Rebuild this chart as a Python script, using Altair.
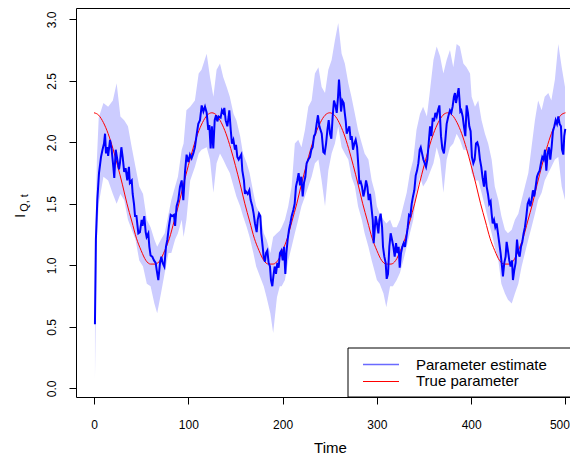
import altair as alt
import pandas as pd

# ---- data ----
T_EST = [1, 2, 3.5, 5.3, 7.4, 9, 10.6, 11.7, 12.7, 14, 15, 17, 18.7, 20.5, 21.5, 23, 24.7, 26.5, 27.5, 29,
         30.4, 32, 33.5, 35.3, 37, 38, 40, 41, 42.4, 43.5, 45, 47, 48.7, 50.5, 51.5, 53.3, 54.8, 55.8, 57.6, 58.7,
         60, 61.8, 63.6, 65.4, 66.5, 68.2, 70, 71.4, 72.8, 74.6, 76.3, 77.8, 79.5, 81.3, 83, 84.8, 86, 87.6, 89.4, 91.2,
         93, 94.7, 96.5, 98.2, 100, 101.8, 103.5, 105.3, 107, 109, 110.6,
         112.4, 114.2, 116, 117.7, 119.5, 121.2, 122.3, 123.7, 125, 126.5, 128, 129.4, 130.8, 132.2, 134.3, 135.7,
         137.1, 138.2, 139.6, 141.4, 142.8, 143.5, 145, 146.3, 147.8, 149.5, 150.6, 152, 153.4, 154.8, 156.2, 157.3,
         159, 160.1, 161.2, 163, 164.7, 166.1, 167.9, 169.3, 170.7, 172.5, 173.6, 175, 176.4, 177.4, 178.9, 179.9,
         181.3, 182.4, 183.8, 185.2, 186.6, 187.7, 189.1, 190.2, 191.6, 193, 194.4, 195.8, 197.2, 198.7, 200.1, 201.5,
         202.9, 204, 205.4, 206.8, 208.2, 209.6, 211.4, 212.8, 214.2, 215.6, 217, 218.5, 219.9, 221.3, 222.7, 224.1,
         225.5, 227.3, 229, 230.5, 231.9, 233.3, 234.7, 236.1, 237.5, 239,
         241.5, 243.2, 244.6, 246.1, 247.5, 248.9, 250.3, 251.7, 253.1, 254.5, 256, 257.4, 258.8, 259.8, 260.9, 262,
         263.4, 264.8, 265.9, 267, 268, 269.4, 270.8, 272.2, 273.3, 274.7, 276.1, 277.5, 279, 280.4, 281.4, 282.8,
         284.2, 285.7, 287.1, 288.5, 289.9, 291.3, 292.7, 294.1, 295.6, 296.6, 297.7, 298.7, 300.1, 301.6, 302.6, 304,
         305.5, 306.5, 307.9, 309.3, 310.4, 311.8, 313.2, 314.6, 316, 317.5, 318.9, 320.3, 321.7, 323.1, 324.2, 325.6,
         327, 328.4, 329.8, 331.3, 332.7, 334.1, 335.5, 336.9, 338.3, 339.7, 341.2, 342.6, 344, 345.4, 346.5, 347.9,
         349.3, 350.7, 352.1, 353.5, 354.9, 356.4, 357.8, 359.2, 360.6, 362, 363.4, 364.8, 366.3,
         368, 369.4, 371.1, 372.6, 374, 375.7, 377.5, 378.9, 380.3, 381.7, 382.8, 383.9, 385.3, 386.7, 387.4, 388.5,
         389.5, 391, 392.3, 393.8, 395.2, 396.6, 398, 399.4, 400.8, 402.3, 403.7, 405.1, 406.5, 407.9, 409.3, 410.7,
         412.1, 413.6, 415, 416.4, 417.8, 419.2, 420.6, 421.7, 422.8, 424.2, 425.6, 427, 428.4, 429.8, 431.2, 432.7,
         433.7, 435.1, 436.5, 437.6, 439, 440.4, 441.8, 443.3, 444.3, 445.7, 447.1, 448.6, 450, 451.4, 452.8, 454.2,
         455.6, 457, 458.5, 459.9, 461.3, 462.7, 464.1, 465.5, 466.9, 468.4, 469.8, 471.2, 472.6, 474, 475.4, 476.8,
         478.3, 479.7, 481.1, 482.5, 483.9, 485.3, 486.7, 488.2, 489.6, 491, 492.4, 493.8, 495.2, 496.3, 497.7, 498.7,
         499.8]
V_EST = [0.52, 1.21, 1.53, 1.75, 1.88, 1.94, 1.99, 2.07, 1.91, 1.96, 1.89, 2.02, 1.94, 1.80, 1.71, 1.94, 1.86, 1.78, 1.83, 1.96,
         1.88, 1.76, 1.79, 1.69, 1.80, 1.67, 1.69, 1.58, 1.50, 1.40, 1.40, 1.26, 1.27, 1.37, 1.32, 1.40, 1.27, 1.23, 1.26, 1.15,
         1.08, 1.07, 1.04, 1.02, 0.96, 0.88, 1.02, 1.07, 1.02, 0.99, 1.15, 1.21, 1.32, 1.41, 1.40, 1.41, 1.32, 1.48, 1.53, 1.64,
         1.69, 1.53, 1.76, 1.90, 1.84, 1.90, 1.87, 1.91, 1.96, 2.07, 2.15,
         2.18, 2.30, 2.25, 2.29, 2.24, 2.10, 2.14, 1.95, 2.13, 1.95, 2.18, 2.22, 2.17, 2.21, 2.20, 2.26,
         2.24, 2.28, 2.18, 2.13, 2.21, 2.26, 2.10, 1.99, 2.02, 1.94, 1.98, 1.88, 1.86, 1.88, 1.90, 1.77,
         1.69, 1.58, 1.60, 1.58, 1.61, 1.53, 1.48, 1.42, 1.34, 1.27, 1.37, 1.42, 1.40, 1.26, 1.15, 1.07,
         1.03, 1.10, 1.12, 1.02, 0.99, 0.88, 0.83, 0.91, 0.99, 0.93, 1.02, 0.98, 1.10, 1.12, 1.04, 1.15,
         0.93, 1.10, 1.21, 1.29, 1.34, 1.40, 1.45, 1.50, 1.64, 1.69, 1.75, 1.65, 1.72, 1.56, 1.67, 1.72,
         1.83, 1.86, 1.88, 1.94, 1.96, 2.05, 2.07, 2.15, 2.22, 2.13,
         2.07, 1.92, 1.91, 1.99, 2.10, 2.18, 2.07, 2.03, 2.21, 2.34, 2.30, 2.24, 2.37, 2.51, 2.40, 2.25,
         2.34, 2.32, 2.24, 2.17, 2.07, 2.10, 2.13, 2.02, 2.05, 1.94, 1.99, 2.02, 1.96, 1.80, 1.67, 1.68,
         1.64, 1.56, 1.61, 1.69, 1.64, 1.53, 1.58, 1.48, 1.37, 1.18, 1.29, 1.40, 1.34, 1.26, 1.37, 1.42,
         1.31, 1.15, 1.07, 1.02, 0.89, 0.93, 1.15, 1.26, 1.21, 1.15, 1.07, 1.18, 1.10, 1.15, 0.98, 1.10,
         1.15, 1.18, 1.15, 1.23, 1.31, 1.41, 1.40, 1.50, 1.56, 1.61, 1.73, 1.77, 1.83, 1.94, 1.96, 1.91,
         1.86, 1.83, 1.80, 1.86, 1.99, 2.13, 2.05, 2.20, 2.17, 2.24, 2.21, 2.26, 2.30,
         2.05, 1.95, 1.91, 2.02, 2.15, 2.21, 2.26, 2.24, 2.29, 2.37, 2.40, 2.32, 2.38, 2.44, 2.37, 2.25,
         2.26, 2.21, 2.13, 2.05, 2.30, 2.24, 2.13, 2.09, 1.88, 1.83, 1.86, 1.99, 2.00, 1.96, 1.86, 1.80,
         1.71, 1.64, 1.77, 1.64, 1.58, 1.50, 1.52, 1.42, 1.34, 1.37, 1.31, 1.34, 1.26, 1.18, 1.10, 0.99,
         0.91, 1.02, 1.07, 1.19, 1.12, 1.04, 0.99, 1.04, 0.88, 0.96, 1.02, 1.21, 1.10, 1.07, 1.15, 1.19,
         1.26, 1.31, 1.40, 1.50, 1.53, 1.48, 1.53, 1.61, 1.56, 1.64, 1.72, 1.75, 1.77, 1.83, 1.88, 1.86,
         1.94, 1.77, 1.91, 1.96, 1.86, 1.96, 2.09, 2.13, 2.18, 2.15, 2.21, 2.15, 2.13, 1.94, 1.90, 2.05,
         2.11]

T_BAND = [1, 3, 5, 10, 15, 20, 24, 28, 32, 36, 40, 44, 48, 52, 56, 60, 64, 67, 71, 75, 79, 82, 86, 89, 93, 95, 98,
          102, 107, 111, 114, 119.5, 123, 126.6, 130, 133.6, 137, 140.7, 144, 148, 151, 155, 158, 162, 165, 169, 172,
          176, 180, 183, 187, 190, 194, 197, 199, 202.5, 206, 209.6, 213, 216.6, 220, 223.7, 227.3, 230.8, 234.3, 238,
          241.4, 245, 248.5, 252, 255.5, 259, 262.6, 266, 269.7, 273, 276.7, 280, 284, 287, 291, 294.5, 298, 300, 303,
          307, 310, 314, 317, 321, 324.5, 328, 331.6, 335, 338.6, 342, 345.7, 349, 353, 356, 360, 363.4, 367, 370.5,
          374, 377.5, 381, 384.6, 388, 391.7, 395, 398.8, 400.5, 404, 407.5, 411, 414.6, 418, 421.7, 425, 428.8, 432,
          435.8, 439, 443, 446.4, 450, 453.5, 457, 460.6, 464, 467.6, 471, 474.7, 478, 481.8, 485, 488.8, 492.4, 496,
          499.5]
LO_BAND = [0.07, 1.20, 1.50, 1.72, 1.69, 1.58, 1.50, 1.58, 1.53, 1.37, 1.29, 1.21, 1.04, 0.99, 0.85, 0.83, 0.69, 0.61,
           0.77, 0.94, 1.10, 1.10, 1.21, 1.26, 1.37, 1.23, 1.37,
           1.69, 1.80, 1.91, 1.94, 1.96, 1.86, 1.59, 1.83, 1.91, 1.86, 1.80, 1.75, 1.64, 1.56, 1.48, 1.40, 1.31, 1.23,
           1.10, 0.99, 0.91, 0.83, 0.74, 0.61, 0.45, 0.74, 0.83, 0.83, 0.88, 1.04, 1.15, 1.26, 1.37, 1.48, 1.56, 1.64,
           1.72, 1.83, 1.86, 1.69, 1.48, 1.77, 1.91, 1.99, 2.13, 1.96, 1.91, 1.86, 1.72, 1.64, 1.48, 1.37, 1.26, 1.15,
           1.04, 0.94, 0.88, 0.85, 0.77, 0.66, 0.83, 0.83, 0.88, 0.94, 1.04, 1.15, 1.26, 1.37, 1.59, 1.72, 1.64, 1.69,
           1.75, 1.83, 1.96, 1.86, 1.59, 1.86, 1.96, 1.99, 2.07, 2.02, 1.94, 1.94, 1.86, 1.75, 1.69, 1.69, 1.59, 1.48,
           1.37, 1.26, 1.15, 1.04, 0.85, 0.77, 0.72, 0.69, 0.77, 0.85, 0.99, 1.10, 1.21, 1.31, 1.42, 1.53, 1.59, 1.69,
           1.75, 1.80, 1.86, 1.88, 1.64, 1.53]
HI_BAND = [0.97, 1.85, 2.20, 2.32, 2.29, 2.34, 2.48, 2.21, 2.18, 2.13, 1.96, 1.80, 1.64, 1.58, 1.37, 1.31, 1.21, 1.15,
           1.21, 1.26, 1.42, 1.53, 1.64, 1.72, 1.94, 1.99, 2.26,
           2.29, 2.34, 2.56, 2.59, 2.72, 2.53, 2.37, 2.59, 2.64, 2.53, 2.45, 2.37, 2.23, 2.18, 2.05, 1.91, 1.83, 1.75,
           1.59, 1.48, 1.42, 1.26, 1.21, 1.10, 1.23, 1.26, 1.28, 1.31, 1.37, 1.48, 1.64, 1.99, 2.02, 1.96, 2.10, 2.29,
           2.34, 2.56, 2.61, 2.45, 2.40, 2.59, 2.67, 2.83, 2.97, 2.72, 2.64, 2.48, 2.37, 2.23, 2.10, 1.99, 1.91, 1.86,
           1.69, 1.59, 1.48, 1.42, 1.37, 1.34, 1.37, 1.31, 1.31, 1.37, 1.48, 1.59, 1.75, 1.86, 2.10, 2.23, 2.29, 2.21,
           2.40, 2.67, 2.78, 2.70, 2.56, 2.67, 2.75, 2.61, 2.80, 2.78, 2.64, 2.61, 2.56, 2.37, 2.29, 2.34, 2.18, 2.07,
           1.99, 1.86, 1.64, 1.53, 1.40, 1.29, 1.26, 1.29, 1.37, 1.42, 1.53, 1.64, 1.75, 1.96, 2.18, 2.34, 2.26, 2.37,
           2.40, 2.34, 2.51, 2.80, 2.61, 2.45]

T_TRUE = [0, 5, 10, 15, 20, 25, 30, 35, 40, 45, 50, 55, 60, 65, 70, 75, 80, 85, 90, 95,
          100, 105, 110, 115, 120, 125, 130, 135, 140, 145, 150, 155, 160, 165, 170, 175, 180, 185, 190, 195,
          200, 205, 210, 215, 220, 225, 230, 235, 240, 245, 250, 255, 260, 265, 270, 275, 280, 285, 290, 295,
          300, 305, 310, 315, 320, 325, 330, 335, 340, 345, 350, 355, 360, 365, 370, 375, 380, 385, 390, 395,
          400, 405, 410, 415, 420, 425, 430, 435, 440, 445, 450, 455, 460, 465, 470, 475, 480, 485, 490, 495, 500]
V_TRUE = [2.24, 2.22, 2.16, 2.07, 1.95, 1.81, 1.66, 1.50, 1.36, 1.22, 1.12, 1.04, 1.01, 1.01, 1.04, 1.12, 1.22, 1.36, 1.50, 1.66,
          1.81, 1.95, 2.07, 2.16, 2.22, 2.24, 2.22, 2.16, 2.07, 1.95, 1.81, 1.66, 1.50, 1.36, 1.22, 1.12, 1.04, 1.01, 1.01, 1.04,
          1.12, 1.22, 1.36, 1.50, 1.66, 1.81, 1.95, 2.07, 2.16, 2.22, 2.24, 2.22, 2.16, 2.07, 1.95, 1.81, 1.66, 1.50, 1.36, 1.22,
          1.12, 1.04, 1.01, 1.01, 1.04, 1.12, 1.22, 1.36, 1.50, 1.66, 1.81, 1.95, 2.07, 2.16, 2.22, 2.24, 2.22, 2.16, 2.07, 1.95,
          1.81, 1.66, 1.50, 1.36, 1.22, 1.12, 1.04, 1.01, 1.01, 1.04, 1.12, 1.22, 1.36, 1.50, 1.66, 1.81, 1.95, 2.07, 2.16, 2.22, 2.24]

X_TICKS = [0, 100, 200, 300, 400, 500]
Y_TICKS = [0.0, 0.5, 1.0, 1.5, 2.0, 2.5, 3.0]
LEGEND_LABELS = ["Parameter estimate", "True parameter"]
X_TITLE = "Time"
Y_TITLE_MAIN = "I"
Y_TITLE_SUB = "Q, t"

FONT = "Liberation Sans"
W, H = 494, 389

df_est = pd.DataFrame({"t": T_EST, "v": V_EST})
df_band = pd.DataFrame({"t": T_BAND, "lo": LO_BAND, "hi": HI_BAND})
df_true = pd.DataFrame({"t": T_TRUE, "v": V_TRUE})

xscale = alt.Scale(domain=[-19.1, 504.8], nice=False, zero=False)
yscale = alt.Scale(domain=[-0.0707, 3.092], nice=False, zero=False)

xaxis = alt.Axis(values=X_TICKS, title=X_TITLE, grid=False, domain=False, tickSize=7, tickColor="black",
                 labelFont=FONT, labelFontSize=12, labelColor="black", labelBaseline="alphabetic",
                 labelPadding=24, labelFlush=8, labelFlushOffset=4,
                 titleFont=FONT, titleFontSize=15, titleFontWeight="normal", titleColor="black",
                 titleBaseline="alphabetic", titleX=254, titleY=55, titleAlign="center")
yaxis = alt.Axis(values=Y_TICKS, title=None, grid=False, domain=False, tickSize=7, tickColor="black",
                 format=".1f", labelAngle=270, labelAlign="center", labelBaseline="alphabetic",
                 labelPadding=14, labelFont=FONT, labelFontSize=12, labelColor="black", labelFlush=False)

band = alt.Chart(df_band).mark_area(color="#ccccff", opacity=1).encode(
    x=alt.X("t:Q", scale=xscale, axis=xaxis),
    y=alt.Y("lo:Q", scale=yscale, axis=yaxis),
    y2="hi:Q",
)
est = alt.Chart(df_est).mark_line(color="#0000ff", strokeWidth=2).encode(
    x=alt.X("t:Q", scale=xscale, axis=xaxis),
    y=alt.Y("v:Q", scale=yscale, axis=yaxis),
)
true = alt.Chart(df_true).mark_line(color="#ff0000", strokeWidth=1, interpolate="monotone").encode(
    x=alt.X("t:Q", scale=xscale, axis=xaxis),
    y=alt.Y("v:Q", scale=yscale, axis=yaxis),
)

# legend box (left part at the reference position, right edge on the plot frame)
LX = 272
one = pd.DataFrame({"a": [0]})
leg_box = alt.Chart(one).mark_rect(fill="white", stroke="black", strokeWidth=1).encode(
    x=alt.value(LX), x2=alt.value(W + 2), y=alt.value(340), y2=alt.value(389))
leg_blue = alt.Chart(one).mark_rule(color="#6a6aff", strokeWidth=1.3).encode(
    x=alt.value(LX + 15), x2=alt.value(LX + 51), y=alt.value(356.5))
leg_red = alt.Chart(one).mark_rule(color="#ff0000", strokeWidth=1).encode(
    x=alt.value(LX + 15), x2=alt.value(LX + 51), y=alt.value(373.5))
leg_t1 = alt.Chart(pd.DataFrame({"s": [LEGEND_LABELS[0]]})).mark_text(
    font=FONT, fontSize=15, align="left", baseline="alphabetic", color="black").encode(
    x=alt.value(LX + 68), y=alt.value(362), text="s:N")
leg_t2 = alt.Chart(pd.DataFrame({"s": [LEGEND_LABELS[1]]})).mark_text(
    font=FONT, fontSize=15, align="left", baseline="alphabetic", color="black").encode(
    x=alt.value(LX + 68), y=alt.value(378), text="s:N")

yt_main = alt.Chart(pd.DataFrame({"s": [Y_TITLE_MAIN]})).mark_text(
    font=FONT, fontSize=15, angle=270, align="center", baseline="alphabetic", color="black").encode(
    x=alt.value(-51), y=alt.value(208), text="s:N")
yt_sub = alt.Chart(pd.DataFrame({"s": [Y_TITLE_SUB]})).mark_text(
    font=FONT, fontSize=11, angle=270, align="center", baseline="alphabetic", color="black").encode(
    x=alt.value(-48), y=alt.value(195), text="s:N")

chart = alt.layer(band, true, est, leg_box, leg_blue, leg_red, leg_t1, leg_t2, yt_main, yt_sub).properties(
    width=W, height=H,
    background="white",
    autosize=alt.AutoSizeParams(type="none"),
    padding={"left": 68, "top": 0, "right": 0, "bottom": 57},
).configure_view(stroke="black", strokeWidth=1)

chart.save("out.html", embed_options={"renderer": "svg", "actions": False})
